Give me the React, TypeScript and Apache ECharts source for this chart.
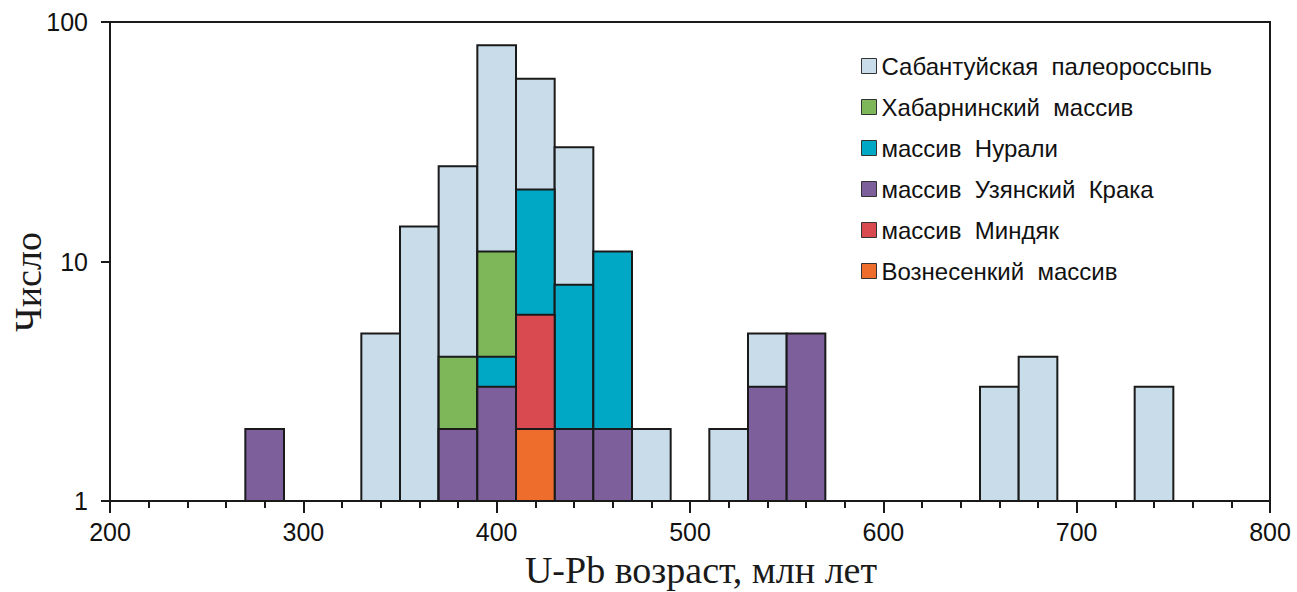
import React, { useEffect, useRef } from "react";
import * as echarts from "echarts";

const BIN_WIDTH = 20;

const sabantuyStarts = [330, 350, 370, 390, 410, 430, 470, 510, 530, 650, 670, 730];
const sabantuyValues = [5, 14, 25, 80, 58, 30, 2, 2, 5, 3, 4, 3];

const khabarninStarts = [370, 390];
const khabarninValues = [4, 11];

const nuraliStarts = [390, 410, 430, 450];
const nuraliValues = [4, 20, 8, 11];

const mindyakStarts = [410];
const mindyakValues = [6];

const uzyanStarts = [270, 370, 390, 430, 450, 530, 550];
const uzyanValues = [2, 2, 3, 2, 2, 3, 5];

const voznesStarts = [410];
const voznesValues = [2];

const xTicks = [200, 300, 400, 500, 600, 700, 800];
const yTicks = [1, 10, 100];

const seriesDefs = [
  { name: "Сабантуйская  палеороссыпь", starts: sabantuyStarts, values: sabantuyValues, color: "#c9dcea" },
  { name: "Хабарнинский  массив", starts: khabarninStarts, values: khabarninValues, color: "#7db75a" },
  { name: "массив  Нурали", starts: nuraliStarts, values: nuraliValues, color: "#00a8c6" },
  { name: "массив  Узянский  Крака", starts: uzyanStarts, values: uzyanValues, color: "#7d5f9b" },
  { name: "массив  Миндяк", starts: mindyakStarts, values: mindyakValues, color: "#d94a50" },
  { name: "Вознесенкий  массив", starts: voznesStarts, values: voznesValues, color: "#ee6d2d" },
];

// draw order: totals first, then overlapping subsets
const drawOrder = [0, 1, 2, 4, 3, 5];

export default function App() {
  const ref = useRef<HTMLDivElement>(null);
  useEffect(() => {
    if (!ref.current) return;
    const chart = echarts.init(ref.current, null, { renderer: "svg" });
    const series = drawOrder.map((idx, z) => {
      const d = seriesDefs[idx];
      return {
        name: d.name,
        type: "custom",
        z: 2 + z,
        itemStyle: { color: d.color, borderColor: "#1a1a1a", borderWidth: 1 },
        data: d.starts.map((s, i) => [s, s + BIN_WIDTH, d.values[i]]),
        encode: { x: [0, 1], y: 2 },
        renderItem: (params: any, api: any) => {
          const x0 = api.value(0);
          const x1 = api.value(1);
          const v = api.value(2);
          const p0 = api.coord([x0, v]);
          const p1 = api.coord([x1, 1]);
          return {
            type: "rect",
            shape: { x: p0[0], y: p0[1], width: p1[0] - p0[0], height: p1[1] - p0[1] },
            style: { fill: d.color, stroke: "#1a1a1a", lineWidth: 2 },
          };
        },
      };
    });
    const tickFont = "'Liberation Sans', Arial, sans-serif";
    chart.setOption({
      animation: false,
      backgroundColor: "#ffffff",
      grid: {
        left: 110,
        right: 27,
        top: 22,
        bottom: 91,
        outerBoundsMode: "none",
        containLabel: false,
        show: true,
        borderColor: "#1a1a1a",
        borderWidth: 2,
        backgroundColor: "transparent",
      },
      legend: {
        orient: "vertical",
        left: 856,
        top: 49,
        itemWidth: 15,
        itemHeight: 15,
        itemGap: 17,
        icon: "rect",
        data: seriesDefs.map((d) => ({
          name: d.name,
          itemStyle: { color: d.color, borderColor: "#333", borderWidth: 1 },
        })),
        textStyle: {
          fontFamily: "'Liberation Sans', Arial, sans-serif",
          fontSize: 24,
          lineHeight: 24,
          color: "#111",
        },
      },
      xAxis: {
        type: "value",
        min: xTicks[0],
        max: xTicks[xTicks.length - 1],
        interval: 100,
        name: "U-Pb возраст, млн лет",
        nameLocation: "middle",
        nameGap: 50,
        nameTextStyle: {
          fontFamily: "'Liberation Serif', 'Times New Roman', serif",
          fontSize: 38,
          lineHeight: 38,
          color: "#1a1a1a",
          padding: [0, 0, 0, 22],
        },
        axisLine: { show: true, lineStyle: { color: "#1a1a1a", width: 2 } },
        axisTick: { show: true, length: 12, lineStyle: { color: "#1a1a1a", width: 2 } },
        minorTick: { show: true, splitNumber: 5, length: 7, lineStyle: { color: "#1a1a1a", width: 2 } },
        splitLine: { show: false },
        minorSplitLine: { show: false },
        axisLabel: {
          margin: 18,
          fontFamily: tickFont,
          fontSize: 25,
          color: "#111",
        },
      },
      yAxis: {
        type: "log",
        logBase: 10,
        min: yTicks[0],
        max: yTicks[yTicks.length - 1],
        axisLine: { show: true, lineStyle: { color: "#1a1a1a", width: 2 } },
        axisTick: { show: true, length: 9, lineStyle: { color: "#1a1a1a", width: 2 } },
        splitLine: { show: false },
        axisLabel: {
          margin: 22,
          fontFamily: tickFont,
          fontSize: 25,
          color: "#111",
        },
      },
      graphic: [
        {
          type: "text",
          x: 28,
          y: 282,
          rotation: Math.PI / 2,
          style: {
            text: "Число",
            font: "38px 'Liberation Serif', 'Times New Roman', serif",
            fill: "#1a1a1a",
            align: "center",
            verticalAlign: "middle",
          },
        },
      ],
      series,
    });
    return () => chart.dispose();
  }, []);
  return (
    <div
      ref={ref}
      style={{ position: "fixed", left: 0, top: 0, width: 1297, height: 592, background: "#fff" }}
    />
  );
}
